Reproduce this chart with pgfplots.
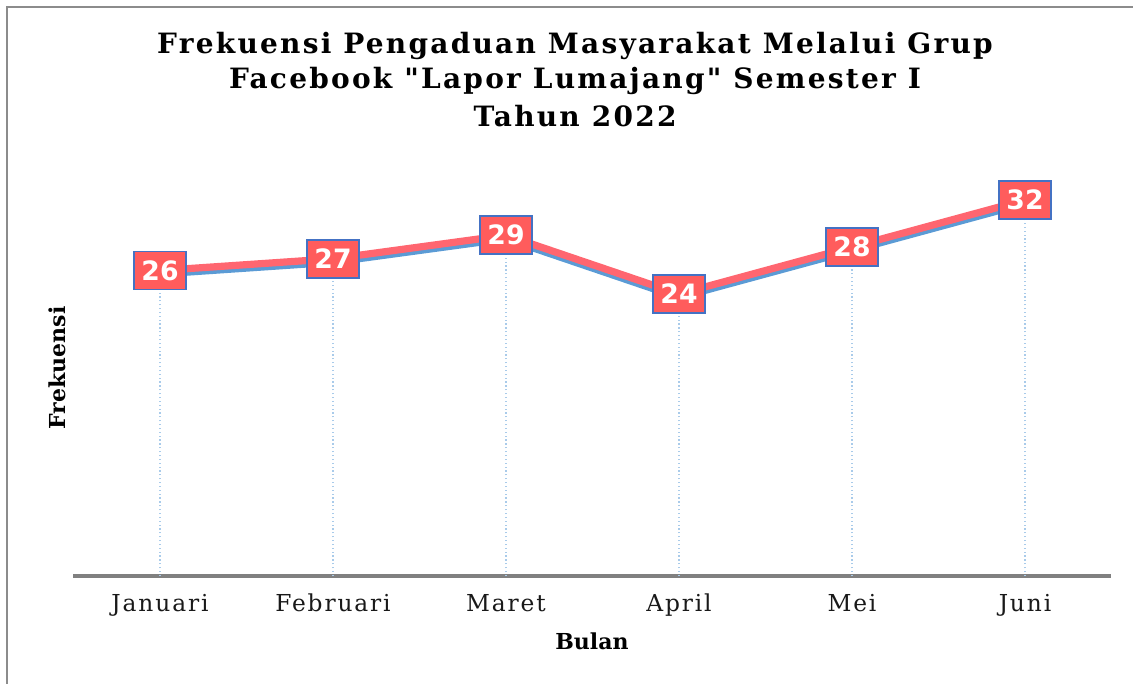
\documentclass[border=0pt]{standalone}
\usepackage{pgfplots}
\pgfplotsset{compat=1.18}
\usepackage{fontspec}
\setmainfont{DejaVu Serif}
\newfontfamily\titlefont[LetterSpace=8]{DejaVu Serif}
\newfontfamily\tickfont[LetterSpace=8]{DejaVu Serif}
\newfontfamily\numfont{DejaVu Sans}
\definecolor{redline}{HTML}{FF6670}
\definecolor{redbox}{HTML}{FF5C5C}
\definecolor{blueedge}{HTML}{4472C4}
\definecolor{blueline}{HTML}{5B9BD5}
\definecolor{dropblue}{HTML}{A9CBEA}
\begin{document}
\begin{tikzpicture}
\begin{scope}[x=0.75pt,y=-0.75pt]
\useasboundingbox (0,0) rectangle (1133,683);
\draw[color=black!45, line width=1.2pt] (7,690) -- (7,7) -- (1140,7);
\coordinate (ax) at (73.5,576);
\node[font=\titlefont\bfseries\fontsize{21}{24}\selectfont, align=center] at (575,46) {Frekuensi Pengaduan Masyarakat Melalui Grup};
\node[font=\titlefont\bfseries\fontsize{21}{24}\selectfont, align=center] at (575,81) {Facebook "Lapor Lumajang" Semester I};
\node[font=\titlefont\bfseries\fontsize{21}{24}\selectfont, align=center] at (575,116) {Tahun 2022};
\node[font=\bfseries\fontsize{16.5}{18}\selectfont] at (592,641) {Bulan};
\node[font=\bfseries\fontsize{16.5}{18}\selectfont, rotate=90] at (57,368) {Frekuensi};
\end{scope}
\begin{axis}[
  at={(ax)}, anchor=south west,
  scale only axis, width=778.5pt, height=308.4375pt,
  xmin=-0.5, xmax=5.5, ymin=0, ymax=35,
  axis x line=bottom, axis y line=none,
  x axis line style={draw=black!50, line width=3.6pt, -},
  xtick={0,1,2,3,4,5},
  xticklabels={Januari,Februari,Maret,April,Mei,Juni},
  major tick length=0pt,
  xticklabel style={font=\tickfont\fontsize{17.5}{19}\selectfont, text=black!90, yshift=-10pt},
  ytick=\empty,
  clip=false,
  /pgf/number format/assume math mode=true,
]
\addplot[ycomb, dropblue, dotted, line width=0.9pt, mark=none] coordinates {(0,26) (1,27) (2,29) (3,24) (4,28) (5,32)};
\addplot[blueline, line width=5pt, mark=none, yshift=-2.8pt] coordinates {(0,26) (1,27) (2,29) (3,24) (4,28) (5,32)};
\addplot[redline, line width=5.4pt, mark=none,
  nodes near coords,
  nodes near coords align=center,
  every node near coord/.style={anchor=center, fill=redbox, draw=blueedge, line width=1.2pt, text=white,
    font=\numfont\bfseries\fontsize{20}{22}\selectfont, minimum width=39pt, minimum height=28.5pt, inner sep=0pt},
] coordinates {(0,26) (1,27) (2,29) (3,24) (4,28) (5,32)};
\end{axis}
\end{tikzpicture}
\end{document}
